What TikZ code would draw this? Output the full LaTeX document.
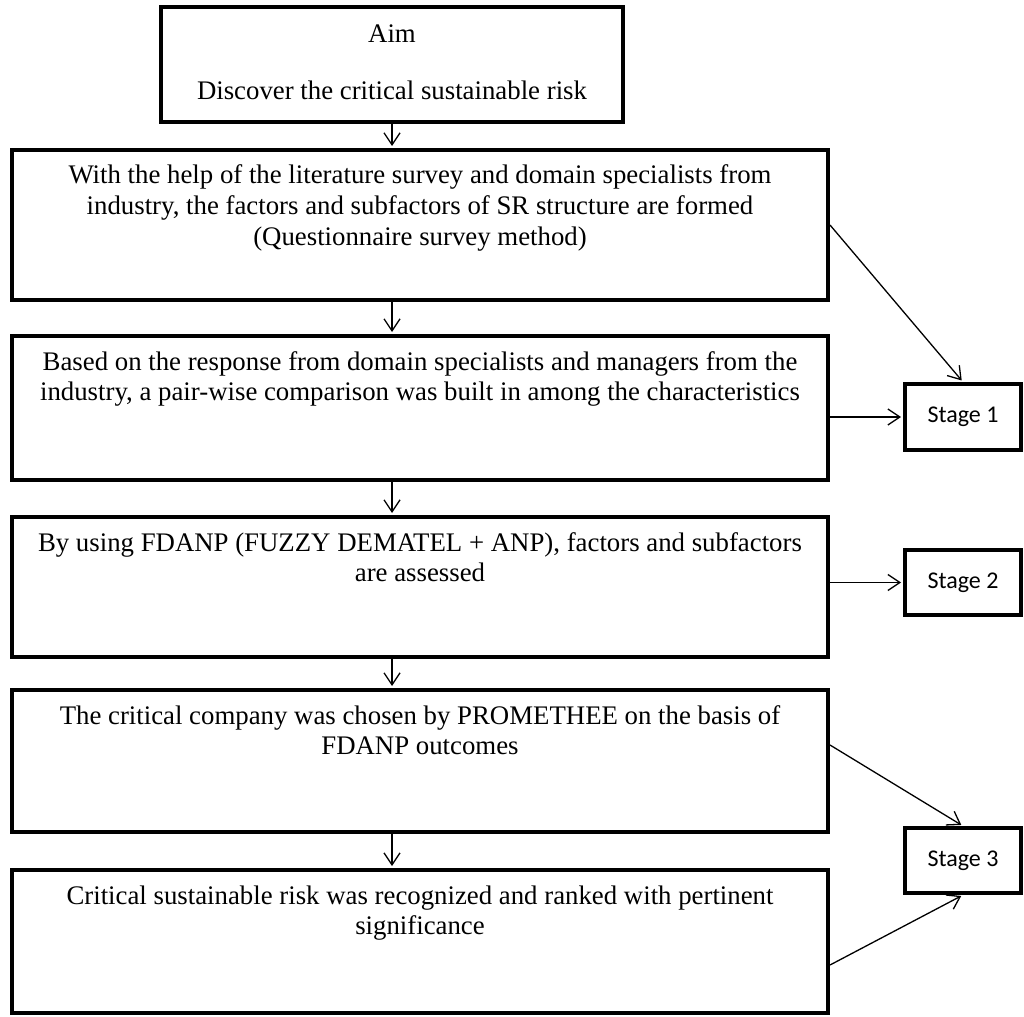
\documentclass[tikz,border=0pt]{standalone}
\usepackage{fontspec}
\setmainfont{Liberation Serif}
\newfontfamily\stagefont{Carlito}
\usetikzlibrary{arrows.meta}
\newcommand\flowtext[4]{\parbox[c][#2][t]{#1}{\centering\rule{0pt}{#3}#4\par}}
\begin{document}
\begin{tikzpicture}[x=1pt,y=-1pt,
  flowbox/.style={draw, line width=4pt, inner sep=0pt, font=\fontsize{26.8}{30.8}\selectfont},
  stagebox/.style={draw, line width=4pt, inner sep=0pt, minimum width=116pt, font=\stagefont\fontsize{24}{26}\selectfont},
  arr/.style={line width=1.3pt, shorten >=2pt, -{Straight Barb[length=12pt,width=16pt]}}]
\useasboundingbox[fill=white] (0,0) rectangle (1024,1016);

\node[flowbox] (aim) at (392,64.5) {\flowtext{462pt}{115pt}{36pt}{Aim\\[26pt]Discover the critical sustainable risk}};
\node[flowbox] (b2) at (420,225) {\flowtext{816pt}{150pt}{34pt}{With the help of the literature survey and domain specialists from\\industry, the factors and subfactors of SR structure are formed\\(Questionnaire survey method)}};
\node[flowbox] (b3) at (420,408) {\flowtext{816pt}{144pt}{34pt}{Based on the response from domain specialists and managers from the\\industry, a pair-wise comparison was built in among the characteristics}};
\node[flowbox] (b4) at (420,587) {\flowtext{816pt}{140pt}{34pt}{By using FDANP (FUZZY DEMATEL + ANP), factors and subfactors\\are assessed}};
\node[flowbox] (b5) at (420,761) {\flowtext{816pt}{142pt}{34pt}{The critical company was chosen by PROMETHEE on the basis of\\FDANP outcomes}};
\node[flowbox] (b6) at (420,941.5) {\flowtext{816pt}{143pt}{34pt}{Critical sustainable risk was recognized and ranked with pertinent\\significance}};

\node[stagebox, minimum height=66pt] (s1) at (963,417) {Stage 1};
\node[stagebox, minimum height=65pt] (s2) at (963,582.5) {Stage 2};
\node[stagebox, minimum height=65pt] (s3) at (963,860.5) {Stage 3};

\draw[arr] (aim.south) -- (aim.south |- b2.north);
\draw[arr] (aim.south |- b2.south) -- (aim.south |- b3.north);
\draw[arr] (aim.south |- b3.south) -- (aim.south |- b4.north);
\draw[arr] (aim.south |- b4.south) -- (aim.south |- b5.north);
\draw[arr] (aim.south |- b5.south) -- (aim.south |- b6.north);

\draw[arr] (b2.east) -- (s1.north);
\draw[arr] (b3.east |- s1.west) -- (s1.west);
\draw[arr] (b4.east |- s2.west) -- (s2.west);
\draw[arr] ([yshift=16pt]b5.east) -- (s3.north);
\draw[arr] ([yshift=-23.5pt]b6.east) -- (s3.south);
\end{tikzpicture}
\end{document}
